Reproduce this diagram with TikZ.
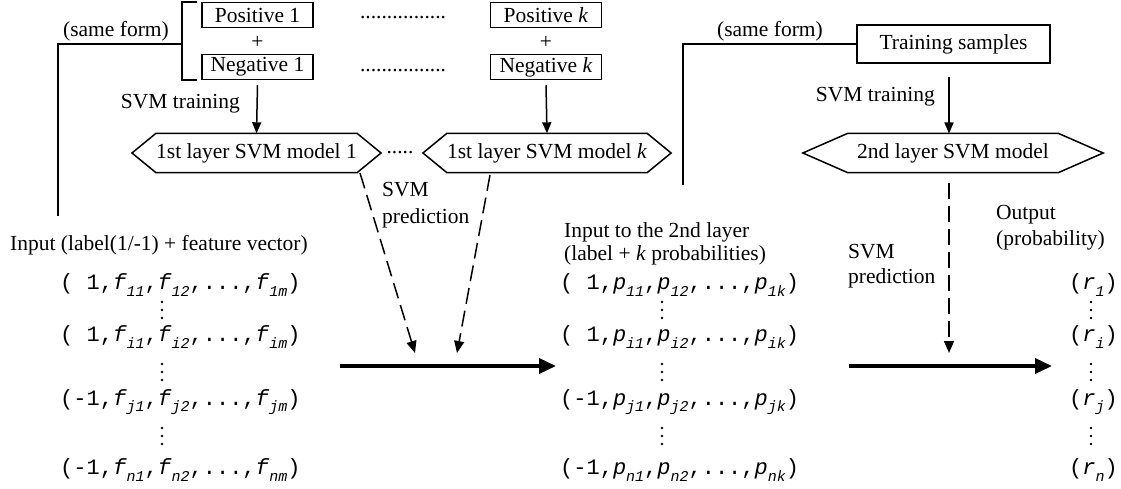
\documentclass[tikz,border=0pt]{standalone}
\usepackage{fontspec}
\setmainfont{Liberation Serif}
\setmonofont{Liberation Mono}
\usetikzlibrary{arrows.meta,calc}
\newcommand{\sv}[2]{\textit{#1}\raisebox{-0.3em}{\fontsize{15}{15}\selectfont\itshape #2}}
\begin{document}
\begin{tikzpicture}[x=1pt,y=-1pt,
  font=\fontsize{21.5}{24}\selectfont,
  txt/.style={inner sep=0pt},
  lbl/.style={inner sep=0pt, anchor=west},
  row/.style={inner sep=0pt, anchor=west, font=\fontsize{22}{24}\selectfont\ttfamily},
  box/.style={draw, line width=1.5pt, inner sep=0pt, minimum width=111pt, minimum height=25pt},
  hexin/.style={inner sep=0pt, minimum height=39pt},
  ln/.style={line width=1.5pt},
  arr/.style={line width=1.5pt, -{Triangle[length=11pt,width=9pt]}},
  darr/.style={line width=1.5pt, dash pattern=on 16pt off 7pt, -{Triangle[length=12pt,width=10pt]}},
  bigarr/.style={line width=3.5pt, -{Triangle[length=17pt,width=15pt]}},
  vd/.style={fill=black}
]
\useasboundingbox (0,0) rectangle (1121,489);

% ---- top left: training sets
\node[box] (pos1) at (257.5,15) {Positive 1};
\node[txt] (plus1) at (257.5,42) {+};
\node[box] (neg1) at (257.5,67) {Negative 1};
\node[box] (posk) at (546,15) {Positive \textit{k}};
\node[txt] (plusk) at (546,42) {+};
\node[box] (negk) at (546,67) {Negative \textit{k}};
\node[txt] (dotsA) at (403,18) {................};
\node[txt] (dotsB) at (403,71) {................};

% bracket and same-form line
\coordinate (bt) at (197,2);
\coordinate (btl) at (182,2);
\coordinate (bbl) at (182,80);
\coordinate (bb) at (197,80);
\coordinate (bm) at (182,44);
\coordinate (lc) at (58,44);
\coordinate (ld) at (58,216);
\draw[ln] (bt) -- (btl) -- (bbl) -- (bb);
\draw[ln] (bm) -- (lc) -- (ld);
\node[txt] (sf1) at (116,31) {(same form)};

% ---- first layer hexagons
\node[hexin, minimum width=199pt] (h1) at (256.5,153) {1st layer SVM model 1};
\draw[ln] (h1.north west) -- ($(h1.west)+(-24,0)$) -- (h1.south west) -- (h1.south east) -- ($(h1.east)+(24,0)$) -- (h1.north east) -- cycle;
\node[hexin, minimum width=199pt] (hk) at (547,153) {1st layer SVM model \textit{k}};
\draw[ln] (hk.north west) -- ($(hk.west)+(-24,0)$) -- (hk.south west) -- (hk.south east) -- ($(hk.east)+(24,0)$) -- (hk.north east) -- cycle;
\node[txt] (dotsC) at (400,153) {.....};

\draw[arr] ([yshift=-5pt]neg1.south) -- (h1.north);
\draw[arr] ([yshift=-5pt]negk.south) -- (hk.north);
\node[txt, anchor=east] (svmt1) at (240,104) {SVM training};

% ---- prediction arrows (first layer)
\coordinate (d1s) at (360,173);
\coordinate (d1e) at (415,353);
\coordinate (dks) at (490,175);
\coordinate (dke) at (457,353);
\draw[darr] (d1s) -- (d1e);
\draw[darr] (dks) -- (dke);
\node[lbl] (svmp1) at (382,190) {SVM};
\node[lbl] (svmp1b) at (382,218) {prediction};

\coordinate (t1s) at (340,366);
\coordinate (t1e) at (556,366);
\draw[bigarr] (t1s) -- (t1e);

% ---- input column
\node[lbl] (inlbl) at (10,245) {Input (label(1/-1) + feature vector)};
\node[row] (f1) at (60,285) {( 1,\sv{f}{11},\sv{f}{12},...,\sv{f}{1m})};
\node[row] (fi) at (60,337) {( 1,\sv{f}{i1},\sv{f}{i2},...,\sv{f}{im})};
\node[row] (fj) at (60,402) {(-1,\sv{f}{j1},\sv{f}{j2},...,\sv{f}{jm})};
\node[row] (fn) at (60,470) {(-1,\sv{f}{n1},\sv{f}{n2},...,\sv{f}{nm})};

% ---- second layer input column
\node[lbl] (in2a) at (564,232) {Input to the 2nd layer};
\node[lbl] (in2b) at (564,255) {(label + \textit{k} probabilities)};
\node[row] (p1) at (560,285) {( 1,\sv{p}{11},\sv{p}{12},...,\sv{p}{1k})};
\node[row] (pi) at (560,337) {( 1,\sv{p}{i1},\sv{p}{i2},...,\sv{p}{ik})};
\node[row] (pj) at (560,402) {(-1,\sv{p}{j1},\sv{p}{j2},...,\sv{p}{jk})};
\node[row] (pn) at (560,470) {(-1,\sv{p}{n1},\sv{p}{n2},...,\sv{p}{nk})};

% ---- right part
\node[draw, line width=1.5pt, inner sep=0pt, minimum width=193pt, minimum height=38pt] (ts) at (953.5,44) {Training samples};
\coordinate (rc) at (683,44);
\coordinate (rd) at (683,185);
\draw[ln] (ts.west) -- (rc) -- (rd);
\node[txt] (sf2) at (770,31) {(same form)};

\node[hexin, minimum width=210pt] (h2) at (953,153) {2nd layer SVM model};
\draw[ln] (h2.north west) -- ($(h2.west)+(-45,0)$) -- (h2.south west) -- (h2.south east) -- ($(h2.east)+(45,0)$) -- (h2.north east) -- cycle;
\coordinate (ta) at (949,77);
\coordinate (tb) at (949,133.5);
\draw[arr] (ta) -- (tb);
\node[txt, anchor=east] (svmt2) at (935,97) {SVM training};

\coordinate (d2s) at (949,183);
\coordinate (d2e) at (949,353);
\draw[darr] (d2s) -- (d2e);
\node[lbl] (svmp2) at (848,252) {SVM};
\node[lbl] (svmp2b) at (848,278) {prediction};

\coordinate (t2s) at (849,366);
\coordinate (t2e) at (1052,366);
\draw[bigarr] (t2s) -- (t2e);

\node[lbl] (outa) at (996,215) {Output};
\node[lbl] (outb) at (996,240) {(probability)};
\node[row] (r1) at (1069,285) {(\sv{r}{1})};
\node[row] (ri) at (1069,337) {(\sv{r}{i})};
\node[row] (rj) at (1069,402) {(\sv{r}{j})};
\node[row] (rn) at (1069,470) {(\sv{r}{n})};

% ---- vertical dots
\foreach \x in {162,662,1091}{
  \foreach \y in {310,372,436}{
    \fill[vd] (\x,\y-8) circle (1.3pt) (\x,\y) circle (1.3pt) (\x,\y+8) circle (1.3pt);
  }
}
\end{tikzpicture}
\end{document}
